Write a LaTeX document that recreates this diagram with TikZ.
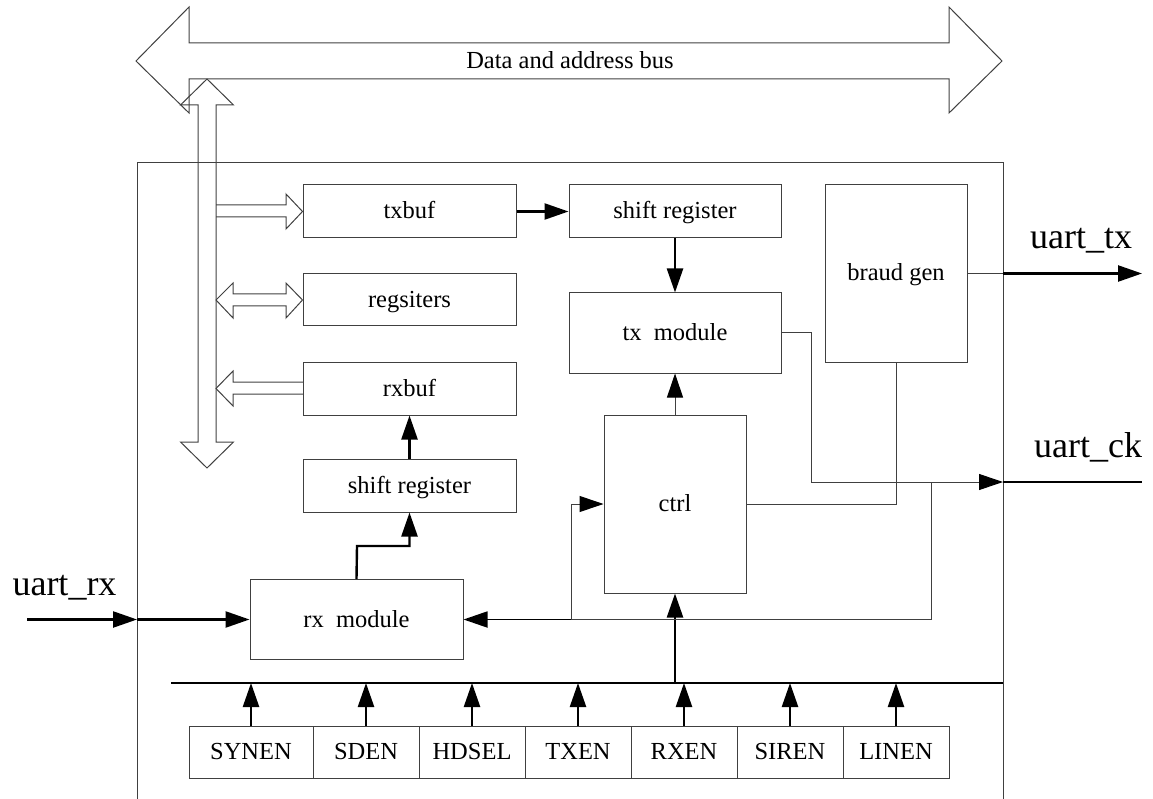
\documentclass[tikz,border=0pt]{standalone}
\usepackage{fontspec}
\setmainfont{Liberation Serif}
\usetikzlibrary{arrows.meta}
\tikzset{
  thin line/.style={draw=black!75, line width=1pt},
  thick line/.style={draw=black, line width=2.4pt},
  blk/.style={draw=black!75, line width=1pt, inner sep=0pt, text height=17pt, text depth=2pt, font=\fontsize{24.5}{29}\selectfont},
  tip/.style={-{Triangle[length=24pt,width=16pt,color=black]}},
  big/.style={font=\fontsize{36}{42}\selectfont, inner sep=0pt},
  hollow/.style={draw=black!75, line width=1pt},
}
\begin{document}
\begin{tikzpicture}[x=1pt,y=-1pt]
\useasboundingbox (0,0) rectangle (1153,799);
% main frame
\draw[thin line] (137,805) -- (137,163) -- (1003,163) -- (1003,805);
% data bus
\draw[hollow] (136,61) -- (189,7) -- (189,43) -- (949,43) -- (949,7) -- (1002,61) -- (949,113) -- (949,79) -- (189,79) -- (189,113) -- cycle;
\node[font=\fontsize{24.5}{29}\selectfont, anchor=base, inner sep=0pt] (buslbl) at (570,69) {Data and address bus};
% vertical internal bus
\draw[hollow] (207,79) -- (233.5,105) -- (216,105) -- (216,442) -- (233.5,442) -- (207,468) -- (180.5,442) -- (198,442) -- (198,105) -- (180.5,105) -- cycle;
% blocks
\node[blk, minimum width=213pt, minimum height=53pt] (txbuf) at (409.5,211.5) {txbuf};
\node[blk, minimum width=213pt, minimum height=52pt] (regs) at (409.5,300) {regsiters};
\node[blk, minimum width=213pt, minimum height=53pt] (rxbuf) at (409.5,388.5) {rxbuf};
\node[blk, minimum width=213pt, minimum height=53pt] (sr2) at (409.5,485.5) {shift register};
\node[blk, minimum width=212pt, minimum height=53pt] (sr1) at (675,211.5) {shift register};
\node[blk, minimum width=212pt, minimum height=80pt] (txm) at (675,333) {tx\ \ module};
\node[blk, minimum width=142pt, minimum height=178pt] (ctrl) at (675,504) {ctrl};
\node[blk, minimum width=142pt, minimum height=177pt] (braud) at (896,273.5) {braud gen};
\node[blk, minimum width=213pt, minimum height=80pt] (rxm) at (356.5,619.5) {rx\ \ module};
% bottom register row
\node[blk, minimum width=124pt, minimum height=52pt] (synen) at (251,752) {SYNEN};
\node[blk, minimum width=106pt, minimum height=52pt] (sden) at (366,752) {SDEN};
\node[blk, minimum width=106pt, minimum height=52pt] (hdsel) at (472,752) {HDSEL};
\node[blk, minimum width=106pt, minimum height=52pt] (txen) at (578,752) {TXEN};
\node[blk, minimum width=106pt, minimum height=52pt] (rxen) at (684,752) {RXEN};
\node[blk, minimum width=106pt, minimum height=52pt] (siren) at (790,752) {SIREN};
\node[blk, minimum width=106pt, minimum height=52pt] (linen) at (896,752) {LINEN};
% hollow side arrows
\draw[hollow] (216,205) -- (286,205) -- (286,194) -- (txbuf.west) -- (286,229) -- (286,217) -- (216,217);
\draw[hollow] (216,300) -- (233,283) -- (233,294) -- (286,294) -- (286,283) -- (regs.west) -- (286,318) -- (286,306) -- (233,306) -- (233,318) -- cycle;
\draw[hollow] (303,382) -- (233,382) -- (233,371) -- (216,388.5) -- (233,406) -- (233,394) -- (303,394);
% coordinates
\coordinate (txo) at (1003,273.5);
\coordinate (txend) at (1142,273.5);
\coordinate (cko) at (1003,482);
\coordinate (ckend) at (1142,482);
\coordinate (ckj) at (931,482);
\coordinate (ckd) at (931,619.5);
\coordinate (ctj) at (571,619.5);
\coordinate (rxin) at (27,619.5);
\coordinate (rxb) at (137,619.5);
\coordinate (busl) at (171,683);
\coordinate (busr) at (1003,683);
% thick connectors
\draw[thick line, tip] (txbuf.east) -- (sr1.west);
\draw[thick line, tip] (sr1.south) -- (txm.north);
\draw[thick line, tip] (sr2.north) -- (rxbuf.south);
\draw[thick line, tip] (rxm.north) -- (357,546) -- (409.5,546) -- (sr2.south);
\draw[thick line, tip] (rxin) -- (rxb);
\draw[thick line, tip] (rxb) -- (rxm.west);
\draw[thick line, tip] (txo) -- (txend);
\draw[thick line] (cko) -- (ckend);
\draw[thick line] (busl) -- (busr);
\draw[thick line, tip] (675,683) -- (ctrl.south);
\foreach \n in {synen,sden,hdsel,txen,rxen,siren,linen}
  \draw[thick line, tip] (\n.north) -- (\n.north |- busl);
% thin connectors
\draw[thin line, tip] (ctrl.north) -- (txm.south);
\draw[thin line] (braud.east) -- (txo);
\draw[thin line] (ctrl.east) -- (braud.south |- ctrl.east) -- (braud.south);
\draw[thin line, tip] (txm.east) -- (811,333) -- (811,482) -- (cko);
\draw[thin line] (ckj) -- (ckd) -- (ctj);
\draw[line width=1.8pt, tip] (ctj) -- (rxm.east);
\draw[thin line, tip] (ctj) -- (571,504) -- (ctrl.west);
% outer labels
\node[big, anchor=base] (uarttx) at (1081,249) {uart\_tx};
\node[big, anchor=base] (uartck) at (1088,457) {uart\_ck};
\node[big, anchor=base] (uartrx) at (64.5,595) {uart\_rx};
\end{tikzpicture}
\end{document}
